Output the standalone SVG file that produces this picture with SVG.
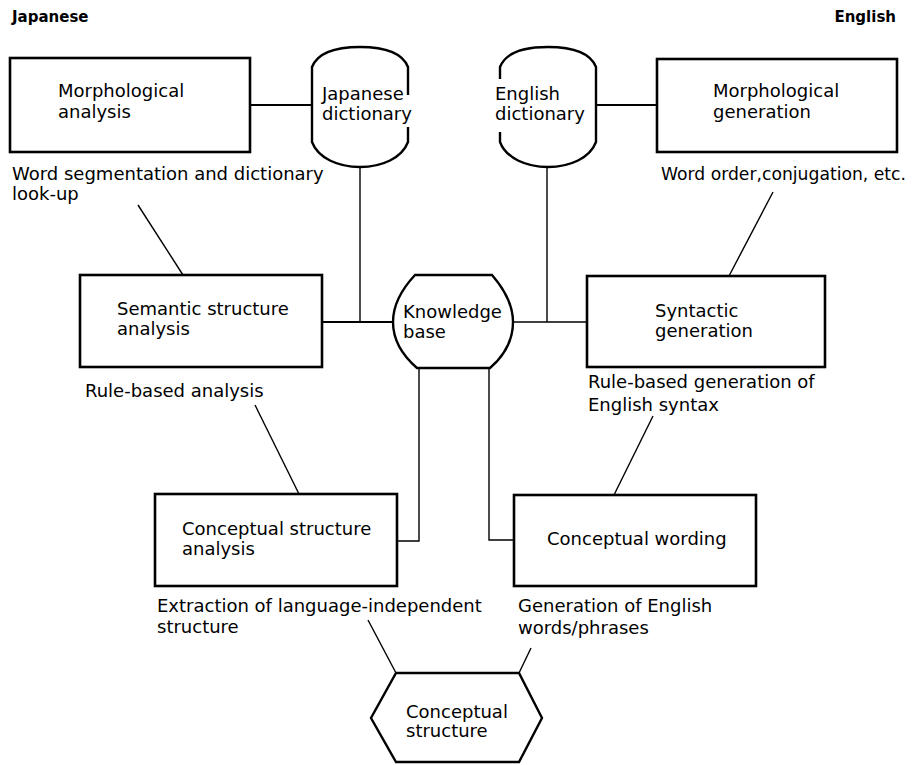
<svg xmlns="http://www.w3.org/2000/svg" width="921" height="765" viewBox="0 0 921 765">
<style>
.box{fill:#fff;stroke:#000;stroke-width:2.6}
.shape{fill:#fff;stroke:#000;stroke-width:2.4}
.edge{fill:none;stroke:#000;stroke-width:2.4}
.fillonly{fill:#fff;stroke:none}
.con{fill:none;stroke:#000;stroke-width:1.4}
.conh{fill:none;stroke:#000;stroke-width:2}
text{font-family:"DejaVu Sans","Liberation Sans",sans-serif;font-size:18px;fill:#000}
.hdr{font-size:15px;font-weight:bold}
</style>
<rect width="921" height="765" fill="#fff"/>
<g id="connectors">
<line class="conh" x1="250" y1="105" x2="312" y2="105"/>
<line class="con" x1="360" y1="167" x2="360" y2="322"/>
<line class="conh" x1="322" y1="322" x2="393" y2="322"/>
<line class="con" x1="138" y1="205" x2="183" y2="275"/>
<line class="con" x1="255" y1="405" x2="299" y2="494"/>
<polyline class="con" points="419,368 419,541 397,541"/>
<polyline class="con" points="489,368 489,540 514,540"/>
<line class="con" x1="513" y1="322" x2="587" y2="322"/>
<line class="con" x1="547" y1="167" x2="547" y2="322"/>
<line class="conh" x1="596" y1="105" x2="657" y2="105"/>
<line class="con" x1="773" y1="192" x2="729" y2="276"/>
<line class="con" x1="653" y1="416" x2="614" y2="495"/>
<line class="con" x1="368" y1="620" x2="396" y2="673"/>
<line class="con" x1="531" y1="648" x2="519" y2="673"/>
</g>
<g id="label-japanese"><text class="hdr" x="12" y="22">Japanese</text></g>
<g id="label-english"><text class="hdr" x="896" y="22" text-anchor="end">English</text></g>
<g id="morph-analysis">
<rect class="box" x="10" y="58" width="240" height="94"/>
<text x="58" y="97">Morphological</text>
<text x="58" y="118">analysis</text>
<text x="12" y="180">Word segmentation and dictionary</text>
<text x="12" y="200">look-up</text>
</g>
<g id="japanese-dictionary">
<path class="fillonly" d="M312,67 C318,52 338,47 360,47 C382,47 402,52 408,67 L408,142 C402,158 382,167 360,167 C338,167 318,158 312,142 Z"/>
<path class="edge" d="M408,95 L408,67 C402,52 382,47 360,47 C338,47 318,52 312,67 L312,142 C318,158 338,167 360,167 C382,167 402,158 408,142 L408,127"/>
<text x="322" y="100">Japanese</text>
<text x="322" y="120">dictionary</text>
</g>
<g id="english-dictionary">
<path class="fillonly" d="M500,67 C506,52 526,47 548,47 C570,47 590,52 596,67 L596,142 C590,158 570,167 548,167 C526,167 506,158 500,142 Z"/>
<path class="edge" d="M500,79 L500,67 C506,52 526,47 548,47 C570,47 590,52 596,67 L596,142 C590,158 570,167 548,167 C526,167 506,158 500,142 L500,132"/>
<text x="495" y="100">English</text>
<text x="495" y="120">dictionary</text>
</g>
<g id="morph-generation">
<rect class="box" x="657" y="59" width="240" height="93"/>
<text x="713" y="97">Morphological</text>
<text x="713" y="118">generation</text>
<text x="661" y="180" textLength="245" lengthAdjust="spacingAndGlyphs">Word order,conjugation, etc.</text>
</g>
<g id="semantic-analysis">
<rect class="box" x="80" y="275" width="242" height="92"/>
<text x="117" y="315">Semantic structure</text>
<text x="117" y="335">analysis</text>
<text x="85" y="397">Rule-based analysis</text>
</g>
<g id="knowledge-base">
<path class="shape" d="M415,275 L492,275 C505,290 513,305 513,322 C513,340 505,355 490,368 L417,368 C402,355 393,340 393,322 C393,305 401,290 415,275 Z"/>
<text x="403" y="318">Knowledge</text>
<text x="403" y="338">base</text>
</g>
<g id="syntactic-generation">
<rect class="box" x="587" y="276" width="238" height="91"/>
<text x="655" y="317">Syntactic</text>
<text x="655" y="337">generation</text>
<text x="588" y="388">Rule-based generation of</text>
<text x="588" y="411">English syntax</text>
</g>
<g id="conceptual-structure-analysis">
<rect class="box" x="155" y="494" width="242" height="92"/>
<text x="182" y="535">Conceptual structure</text>
<text x="182" y="555">analysis</text>
<text x="157" y="612">Extraction of language-independent</text>
<text x="157" y="633">structure</text>
</g>
<g id="conceptual-wording">
<rect class="box" x="514" y="495" width="242" height="91"/>
<text x="547" y="545">Conceptual wording</text>
<text x="518" y="612">Generation of English</text>
<text x="518" y="634">words/phrases</text>
</g>
<g id="conceptual-structure">
<path class="shape" d="M396,673 L519,673 L542,718 L519,762 L396,762 L371,718 Z"/>
<text x="406" y="718">Conceptual</text>
<text x="406" y="737">structure</text>
</g>
</svg>
